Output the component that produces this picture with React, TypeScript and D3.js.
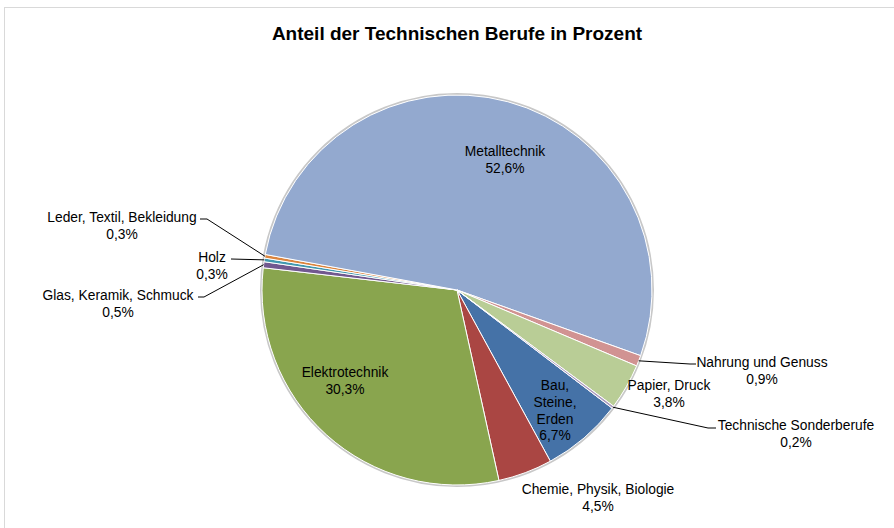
import React from "react";
import * as d3 from "d3";

const title = "Anteil der Technischen Berufe in Prozent";
const categories = [
  "Bau, Steine, Erden",
  "Chemie, Physik, Biologie",
  "Elektrotechnik",
  "Glas, Keramik, Schmuck",
  "Holz",
  "Leder, Textil, Bekleidung",
  "Metalltechnik",
  "Nahrung und Genuss",
  "Papier, Druck",
  "Technische Sonderberufe",
];
const values = [6.7, 4.5, 30.3, 0.5, 0.3, 0.3, 52.6, 0.9, 3.8, 0.2];
const valueLabels = ["6,7%", "4,5%", "30,3%", "0,5%", "0,3%", "0,3%", "52,6%", "0,9%", "3,8%", "0,2%"];
const colors = ["#4572A7", "#AA4643", "#89A54E", "#71588F", "#4198AF", "#DB843D", "#93A9CF", "#D19392", "#B9CD96", "#A99BBD"];

// label layout: name lines, label center x, first-line baseline y, leader elbow
type Lay = { lines: string[]; x: number; y: number; leader: null | { ex: number; ey: number; tx: number } };
const layout: Lay[] = [
  { lines: ["Bau,", "Steine,", "Erden"], x: 555, y: 390, leader: null },
  { lines: ["Chemie, Physik, Biologie"], x: 598, y: 494, leader: null },
  { lines: ["Elektrotechnik"], x: 345, y: 377, leader: null },
  { lines: ["Glas, Keramik, Schmuck"], x: 118, y: 300, leader: { ex: 204, ey: 297, tx: 198 } },
  { lines: ["Holz"], x: 212, y: 262, leader: { ex: 231, ey: 259, tx: 231 } },
  { lines: ["Leder, Textil, Bekleidung"], x: 122, y: 222, leader: { ex: 207, ey: 219, tx: 200 } },
  { lines: ["Metalltechnik"], x: 505, y: 156, leader: null },
  { lines: ["Nahrung und Genuss"], x: 762, y: 367, leader: { ex: 690, ey: 364, tx: 696 } },
  { lines: ["Papier, Druck"], x: 669, y: 390, leader: null },
  { lines: ["Technische Sonderberufe"], x: 796, y: 430, leader: { ex: 708, ey: 428, tx: 716 } },
];

const W = 894;
const H = 528;
const cx = 457;
const cy = 290;
const R = 195;
const startDeg = 127.3;

export default function App() {
  const pie = d3
    .pie<number>()
    .sort(null)
    .value((d) => d)
    .startAngle((startDeg * Math.PI) / 180)
    .endAngle((startDeg * Math.PI) / 180 + 2 * Math.PI);
  const arcs = pie(values);
  const arc = d3.arc<d3.PieArcDatum<number>>().innerRadius(0).outerRadius(R);
  const font = "'Liberation Sans', Arial, sans-serif";
  const lh = 16.8;

  return (
    <svg width={W} height={H} style={{ position: "absolute", left: 0, top: 0, background: "#fff" }}>
      <rect x={4.5} y={7.5} width={W + 10} height={H + 10} fill="#fff" stroke="#D9D9D9" strokeWidth={1} />
      <text x={457} y={40} textAnchor="middle" fontFamily={font} fontWeight="bold" fontSize={19} fill="#000">
        {title}
      </text>
      <g transform={`translate(${cx},${cy})`}>
        <circle r={R + 1} fill="none" stroke="#C8C8C8" strokeWidth={2} />
        {arcs.map((a, i) => (
          <path key={i} d={arc(a) || ""} fill={colors[i]} stroke="#fff" strokeWidth={1} strokeLinejoin="round" />
        ))}
      </g>
      {arcs.map((a, i) => {
        const L = layout[i];
        if (!L.leader) return null;
        const mid = (a.startAngle + a.endAngle) / 2;
        const px = cx + R * Math.sin(mid);
        const py = cy - R * Math.cos(mid);
        return (
          <polyline
            key={"l" + i}
            points={`${px},${py} ${L.leader.ex},${L.leader.ey} ${L.leader.tx},${L.leader.ey}`}
            fill="none"
            stroke="#000"
            strokeWidth={1}
          />
        );
      })}
      {layout.map((L, i) => (
        <text key={"t" + i} textAnchor="middle" fontFamily={font} fontSize={13.8} fill="#000">
          {[...L.lines, valueLabels[i]].map((s, j) => (
            <tspan key={j} x={L.x} y={L.y + j * lh}>
              {s}
            </tspan>
          ))}
        </text>
      ))}
    </svg>
  );
}
